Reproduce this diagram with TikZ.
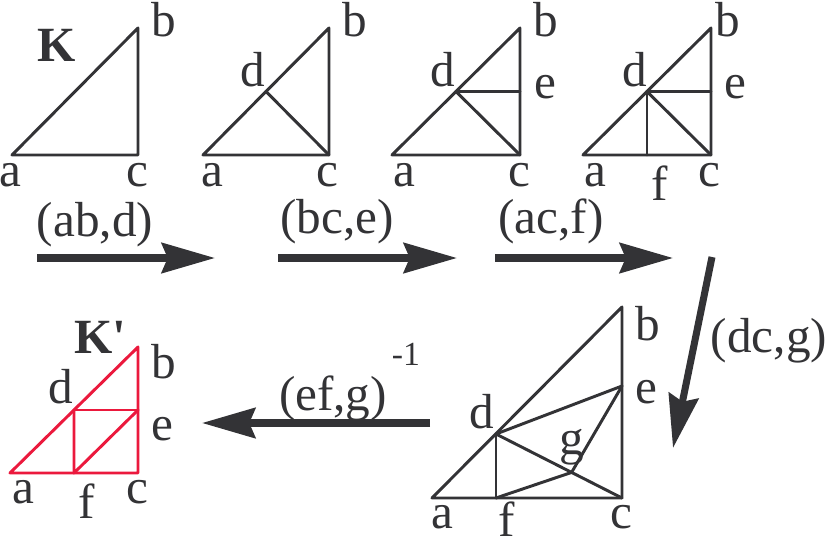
\documentclass[tikz,border=0pt]{standalone}
\usepackage{fontspec}
\setmainfont{Liberation Serif}
\usepackage{tikz}
\usetikzlibrary{calc}
\usetikzlibrary{arrows.meta}
\definecolor{tttttt}{rgb}{0.2,0.2,0.21}
\definecolor{ffqqtt}{rgb}{0.92,0.1,0.24}
\tikzstyle{every node}=[font=\fontsize{35}{42}\selectfont,inner sep=0pt,anchor=base,text=tttttt]
\tikzset{edge/.style={line width=2.1pt,color=tttttt},
  redge/.style={line width=2.1pt,color=ffqqtt},
  bigarrow/.style={line width=5pt,color=tttttt,line cap=butt,-{Stealth[length=1.33cm,width=0.75cm,inset=0.15cm]}},
  sup/.style={font=\fontsize{24}{29}\selectfont}}

\begin{document}
\begin{tikzpicture}[line cap=round,line join=round,x=0.025cm,y=-0.025cm]
\useasboundingbox (0,0) rectangle (830,545);
% K
\coordinate (a1) at (12,155);
\coordinate (c1) at (138,155);
\coordinate (b1) at (138,28);
\draw[edge] (a1) -- (c1) -- (b1) -- cycle;
\node[font=\fontsize{35}{42}\selectfont\bfseries] (K) at (57,62) {K};
\node (la1) at (10,187) {a};
\node (lc1) at (137,187) {c};
\node (lb1) at (164,37) {b};
% step (ab,d)
\coordinate (a2) at (203,155);
\coordinate (c2) at (329,155);
\coordinate (b2) at (329,28);
\coordinate (d2) at ($(a2)!0.5!(b2)$);
\draw[edge] (a2) -- (c2) -- (b2) -- cycle;
\draw[edge] (d2) -- (c2);
\node (la2) at (212,187) {a};
\node (lc2) at (327,187) {c};
\node (lb2) at (355,37) {b};
\node (ld2) at (253,87) {d};
% step (bc,e)
\coordinate (a3) at (392,155);
\coordinate (c3) at (520,155);
\coordinate (b3) at (520,28);
\coordinate (d3) at ($(a3)!0.5!(b3)$);
\coordinate (e3) at ($(c3)!0.5!(b3)$);
\draw[edge] (a3) -- (c3) -- (b3) -- cycle;
\draw[edge] (d3) -- (c3);
\draw[edge] (d3) -- (e3);
\node (la3) at (404,187) {a};
\node (lc3) at (519,187) {c};
\node (lb3) at (546,37) {b};
\node (ld3) at (443,87) {d};
\node (le3) at (545,99) {e};
% step (ac,f)
\coordinate (a4) at (583,155);
\coordinate (c4) at (711,155);
\coordinate (b4) at (711,28);
\coordinate (d4) at ($(a4)!0.5!(b4)$);
\coordinate (e4) at ($(c4)!0.5!(b4)$);
\coordinate (f4) at ($(a4)!0.5!(c4)$);
\draw[edge] (a4) -- (c4) -- (b4) -- cycle;
\draw[edge] (d4) -- (c4);
\draw[edge] (d4) -- (e4);
\draw[edge] (d4) -- (f4);
\node (la4) at (595,187) {a};
\node (lf4) at (660,200) {f};
\node (lc4) at (709,187) {c};
\node (lb4) at (728,37) {b};
\node (ld4) at (635,87) {d};
\node (le4) at (735,99) {e};
% step (dc,g)
\coordinate (a5) at (432,498);
\coordinate (c5) at (622,498);
\coordinate (b5) at (622,307);
\coordinate (d5) at (496,434);
\coordinate (e5) at (622,386);
\coordinate (f5) at (496,498);
\coordinate (g5) at ($(d5)!0.6!(c5)$);
\draw[edge] (a5) -- (c5) -- (b5) -- cycle;
\draw[edge] (d5) -- (c5);
\draw[edge] (d5) -- (e5);
\draw[edge] (d5) -- (f5);
\draw[edge] (f5) -- (g5) -- (e5);
\node (la5) at (442,528) {a};
\node (lf5) at (507,536) {f};
\node (lc5) at (621,528) {c};
\node (lb5) at (648,340) {b};
\node (le5) at (646,403) {e};
\node (ld5) at (482,428) {d};
\node (lg5) at (572,454) {g};
% K'
\coordinate (a6) at (10,473);
\coordinate (c6) at (138,473);
\coordinate (b6) at (138,347);
\coordinate (d6) at ($(a6)!0.5!(b6)$);
\coordinate (e6) at ($(c6)!0.5!(b6)$);
\coordinate (f6) at ($(a6)!0.5!(c6)$);
\draw[redge] (a6) -- (c6) -- (b6) -- cycle;
\draw[redge] (d6) -- (e6);
\draw[redge] (d6) -- (f6) -- (e6);
\node[font=\fontsize{35}{42}\selectfont\bfseries] (K') at (100,353) {K\textquotesingle};
\node (la6) at (23,503) {a};
\node (lf6) at (87,518) {f};
\node (lc6) at (137,503) {c};
\node (lb6) at (164,378) {b};
\node (ld6) at (61,403) {d};
\node (le6) at (162,440) {e};
% arrows
\coordinate (s1) at (37,258);
\coordinate (t1) at (215,258);
\coordinate (s2) at (278,258);
\coordinate (t2) at (457,258);
\coordinate (s3) at (495,258);
\coordinate (t3) at (673,258);
\coordinate (s4) at (712,257);
\coordinate (t4) at (673,448);
\coordinate (s5) at (430,423);
\coordinate (t5) at (202,423);
\draw[bigarrow] (s1) -- (t1);
\draw[bigarrow] (s2) -- (t2);
\draw[bigarrow] (s3) -- (t3);
\draw[bigarrow] (s4) -- (t4);
\draw[bigarrow] (s5) -- (t5);
\node (op1) at (95,236) {(ab,d)};
\node (op2) at (337,233) {(bc,e)};
\node (op3) at (551,233) {(ac,f)};
\node (op4) at (769,352) {(dc,g)};
\node (op5) at (333,410) {(ef,g)};
\node[sup] (inv) at (406,365) {-1};
\end{tikzpicture}
\end{document}
